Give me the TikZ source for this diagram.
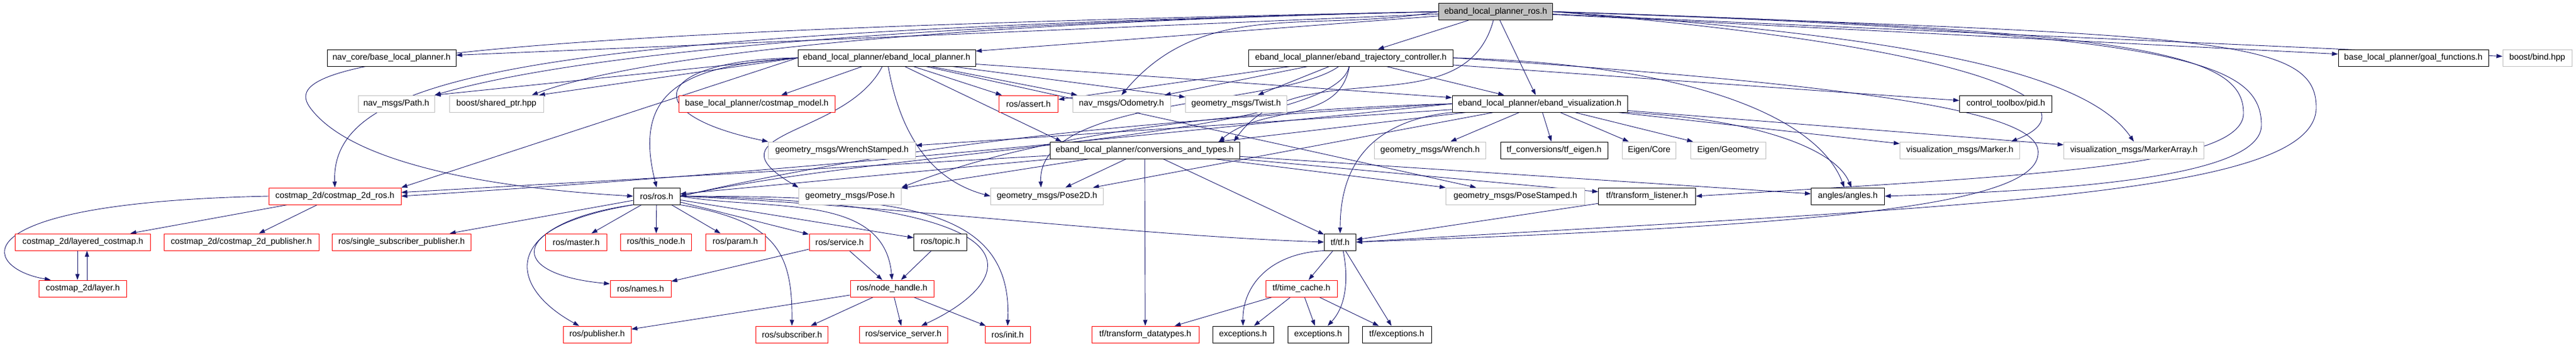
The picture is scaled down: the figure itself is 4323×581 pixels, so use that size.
\documentclass[tikz,border=0pt]{standalone}
\usepackage{fontspec}
\setmainfont{Liberation Sans}
\usetikzlibrary{arrows.meta,backgrounds}
\definecolor{edgeblue}{HTML}{191970}
\definecolor{boxgray}{HTML}{BFBFBF}
\newcommand{\hdrfont}{\fontsize{14.3}{17}\selectfont}

\begin{document}
\begin{tikzpicture}[x=1pt,y=1pt,
    hdr/.style={draw=black,fill=white,line width=1pt,minimum height=28,inner sep=0pt,font=\hdrfont},
    extbox/.style={hdr,draw=boxgray},
    missbox/.style={hdr,draw=red},
    rootbox/.style={hdr,fill=boxgray},
    inc/.style={draw=edgeblue,line width=0.9pt,-{Triangle[length=10pt,width=7pt]}}]
    \useasboundingbox (0,0) rectangle (4323,-581);

    \node[rootbox, minimum width=191] (root) at (2510,-19.5) {eband\_local\_planner\_ros.h};

    \node[hdr, minimum width=216] (navcore) at (657,-97) {nav\_core/base\_local\_planner.h};
    \node[hdr, minimum width=298] (ebandlp) at (1488,-97) {eband\_local\_planner/eband\_local\_planner.h};
    \node[hdr, minimum width=343] (traj) at (2267,-97) {eband\_local\_planner/eband\_trajectory\_controller.h};
    \node[hdr, minimum width=252] (goalf) at (4050,-97) {base\_local\_planner/goal\_functions.h};
    \node[extbox, minimum width=116] (bind) at (4258,-97) {boost/bind.hpp};

    \node[extbox, minimum width=128] (path) at (665,-174) {nav\_msgs/Path.h};
    \node[extbox, minimum width=158] (sharedptr) at (833,-174) {boost/shared\_ptr.hpp};
    \node[missbox, minimum width=262] (costmapmodel) at (1270,-174) {base\_local\_planner/costmap\_model.h};
    \node[missbox, minimum width=99] (assert) at (1726,-174) {ros/assert.h};
    \node[extbox, minimum width=164] (odom) at (1882,-174) {nav\_msgs/Odometry.h};
    \node[extbox, minimum width=170] (twist) at (2074.5,-174) {geometry\_msgs/Twist.h};
    \node[hdr, minimum width=294] (vis) at (2584,-174) {eband\_local\_planner/eband\_visualization.h};
    \node[hdr, minimum width=155] (pid) at (3366,-174) {control\_toolbox/pid.h};

    \node[extbox, minimum width=247] (wrenchst) at (1413,-252) {geometry\_msgs/WrenchStamped.h};
    \node[hdr, minimum width=318] (conv) at (1921,-252) {eband\_local\_planner/conversions\_and\_types.h};
    \node[extbox, minimum width=187] (wrench) at (2400,-252) {geometry\_msgs/Wrench.h};
    \node[hdr, minimum width=180] (tfeigen) at (2608,-252) {tf\_conversions/tf\_eigen.h};
    \node[extbox, minimum width=90] (eigcore) at (2767.5,-252) {Eigen/Core};
    \node[extbox, minimum width=126] (eiggeom) at (2900,-252) {Eigen/Geometry};
    \node[extbox, minimum width=201] (marker) at (3289,-252) {visualization\_msgs/Marker.h};
    \node[extbox, minimum width=235] (markerarr) at (3581,-252) {visualization\_msgs/MarkerArray.h};

    \node[missbox, minimum width=222] (cmros) at (562,-329) {costmap\_2d/costmap\_2d\_ros.h};
    \node[hdr, minimum width=78] (ros) at (1102,-329) {ros/ros.h};
    \node[extbox, minimum width=172] (pose) at (1426.5,-329) {geometry\_msgs/Pose.h};
    \node[extbox, minimum width=189] (pose2d) at (1757,-329) {geometry\_msgs/Pose2D.h};
    \node[extbox, minimum width=233] (posest) at (2543,-329) {geometry\_msgs/PoseStamped.h};
    \node[hdr, minimum width=163] (tflist) at (2764,-329) {tf/transform\_listener.h};
    \node[hdr, minimum width=123] (angles) at (3101,-329) {angles/angles.h};

    \node[missbox, minimum width=227] (layered) at (139,-406) {costmap\_2d/layered\_costmap.h};
    \node[missbox, minimum width=260] (cmpub) at (405,-406) {costmap\_2d/costmap\_2d\_publisher.h};
    \node[missbox, minimum width=233] (singlesub) at (674,-406) {ros/single\_subscriber\_publisher.h};
    \node[missbox, minimum width=103] (master) at (967,-406) {ros/master.h};
    \node[missbox, minimum width=119] (thisnode) at (1101,-406) {ros/this\_node.h};
    \node[missbox, minimum width=100] (param) at (1234,-406) {ros/param.h};
    \node[missbox, minimum width=102] (service) at (1409,-406) {ros/service.h};
    \node[hdr, minimum width=89] (topic) at (1578,-406) {ros/topic.h};
    \node[hdr, minimum width=53] (tf) at (2249,-406) {tf/tf.h};

    \node[missbox, minimum width=147] (layer) at (139,-484) {costmap\_2d/layer.h};
    \node[missbox, minimum width=102] (names) at (1075,-484) {ros/names.h};
    \node[missbox, minimum width=140] (nodehandle) at (1497,-484) {ros/node\_handle.h};
    \node[missbox, minimum width=120] (timecache) at (2184,-484) {tf/time\_cache.h};

    \node[missbox, minimum width=114] (publisher) at (1002,-561) {ros/publisher.h};
    \node[missbox, minimum width=121] (subscriber) at (1329,-561) {ros/subscriber.h};
    \node[missbox, minimum width=148] (srvserver) at (1516,-561) {ros/service\_server.h};
    \node[missbox, minimum width=76] (init) at (1691,-561) {ros/init.h};
    \node[missbox, minimum width=180] (tfdatatypes) at (1922,-561) {tf/transform\_datatypes.h};
    \node[hdr, minimum width=102] (exc1) at (2086,-561) {exceptions.h};
    \node[hdr, minimum width=102] (exc2) at (2212,-561) {exceptions.h};
    \node[hdr, minimum width=116] (tfexc) at (2344,-561) {tf/exceptions.h};

    \begin{scope}[on background layer]
    % includes of the root header
    \draw[inc] (root) to (navcore);
    \draw[inc] (root) to (ebandlp);
    \draw[inc] (root) to (traj);
    \draw[inc] (root) to (vis);
    \draw[inc] (root) to (goalf);
    \draw[inc] (root) to (bind);
    \draw[inc] (root) to[out=-105,in=55] ([xshift=-10]conv.north east);
    \draw[inc] (root.west) to[out=190,in=50] (odom.north);
    \draw[inc] (root.west) .. controls (1300,-45) and (900,-110) .. (path.north east);
    \draw[inc] (root.west) .. controls (1500,-40) and (1050,-100) .. ([xshift=-20]sharedptr.north east);
    \draw[inc] (root.west) .. controls (900,-55) and (555,-120) .. (cmros.north);
    \draw[inc] (root.west) .. controls (650,-55) and (470,-110) .. (520,-180) .. controls (600,-290) and (900,-320) .. (ros.west);
    \draw[inc] (root.east) .. controls (3200,-60) and (3500,-120) .. (markerarr.north);
    \draw[inc] (root.east) .. controls (3350,-80) and (3520,-180) .. ([xshift=-15]marker.north east);
    \draw[inc] (root.east) .. controls (3600,-50) and (3765,-90) .. (3765,-190) .. controls (3765,-280) and (3400,-295) .. (tflist.east);
    \draw[inc] (root.east) .. controls (3650,-55) and (3795,-100) .. (3795,-210) .. controls (3795,-300) and (3450,-320) .. (angles.east);
    \draw[inc] (root.east) .. controls (3700,-60) and (3887,-60) .. (3887,-180) .. controls (3887,-330) and (3300,-345) .. (tf.east);

    % eband_local_planner.h
    \draw[inc] (ebandlp) to (costmapmodel);
    \draw[inc] (ebandlp) to (assert);
    \draw[inc] (ebandlp) to (odom);
    \draw[inc] (ebandlp) to (twist);
    \draw[inc] (ebandlp) to (vis);
    \draw[inc] (ebandlp) to ([xshift=20]conv.north west);
    \draw[inc] (ebandlp.west) to (path.north east);
    \draw[inc] (ebandlp.west) to ([xshift=-8]sharedptr.north east);
    \draw[inc] (ebandlp.west) to (cmros.north east);
    \draw[inc] (ebandlp.west) .. controls (1150,-110) and (1060,-150) .. (ros.north);
    \draw[inc] (ebandlp.west) .. controls (1100,-100) and (1060,-190) .. (wrenchst.north west);
    \draw[inc] (ebandlp) .. controls (1420,-230) and (1180,-220) .. (pose.north west);
    \draw[inc] (ebandlp) to[out=-80,in=165] (pose2d.west);
    \draw[inc] (ebandlp) to (posest);

    % eband_trajectory_controller.h
    \draw[inc] (traj) to (twist);
    \draw[inc] (traj) to (vis);
    \draw[inc] (traj) to (assert);
    \draw[inc] (traj) to (odom);
    \draw[inc] (traj) to (pid);
    \draw[inc] (traj) to[out=-100,in=40] ([xshift=-35]conv.north east);
    \draw[inc] (traj) .. controls (2240,-230) and (1500,-250) .. (ros.east);
    \draw[inc] (traj) .. controls (2150,-180) and (1740,-160) .. ([xshift=-10]pose2d.north);
    \draw[inc] (traj.east) .. controls (2900,-110) and (3060,-220) .. ([xshift=-6]angles.north);
    \draw[inc] (traj.east) .. controls (3250,-150) and (3430,-200) .. (3420,-260) .. controls (3410,-350) and (3000,-380) .. (tf.east);

    % eband_visualization.h
    \draw[inc] (vis) to (wrench);
    \draw[inc] (vis) to (tfeigen);
    \draw[inc] (vis) to (eigcore);
    \draw[inc] (vis) to (eiggeom);
    \draw[inc] (vis) to (marker);
    \draw[inc] (vis) to (markerarr);
    \draw[inc] (vis) to (conv);
    \draw[inc] (vis) to (wrenchst);
    \draw[inc] (vis) to (pose2d);
    \draw[inc] (vis.west) .. controls (2000,-200) and (1600,-225) .. (ros.east);
    \draw[inc] (vis.west) .. controls (1900,-190) and (1650,-260) .. (pose.north east);
    \draw[inc] (vis.west) .. controls (1900,-230) and (1300,-290) .. (cmros.east);
    \draw[inc] (vis.south west) .. controls (2280,-205) and (2249,-300) .. (tf.north);
    \draw[inc] (vis.south east) .. controls (2950,-200) and (3080,-250) .. ([xshift=6]angles.north);

    % conversions_and_types.h
    \draw[inc] (conv) to (ros);
    \draw[inc] (conv) to (pose);
    \draw[inc] (conv) to (pose2d);
    \draw[inc] (conv) to (posest);
    \draw[inc] (conv) to (tflist);
    \draw[inc] (conv) to (angles);
    \draw[inc] (conv) to (tf);
    \draw[inc] (conv) to (tfdatatypes);
    \draw[inc] (conv) to (cmros);

    % ros/ros.h
    \draw[inc] (ros) to (singlesub);
    \draw[inc] (ros) to (master);
    \draw[inc] (ros) to (thisnode);
    \draw[inc] (ros) to (param);
    \draw[inc] (ros) to (service);
    \draw[inc] (ros) to (topic);
    \draw[inc] (ros.south west) .. controls (850,-380) and (850,-460) .. ([yshift=8]names.west);
    \draw[inc] (ros.south west) .. controls (840,-375) and (850,-480) .. ([xshift=-30]publisher.north);
    \draw[inc] (ros.south east) .. controls (1300,-370) and (1330,-420) .. (subscriber.north);
    \draw[inc] (ros.east) to[out=-10,in=95] (nodehandle.north);
    \draw[inc] (ros.east) .. controls (1800,-340) and (1690,-480) .. ([xshift=30]srvserver.north);
    \draw[inc] (ros.east) .. controls (1500,-330) and (1700,-340) .. (init.north);
    \draw[inc] (ros.east) .. controls (1500,-345) and (1900,-395) .. (tf.west);

    \draw[inc] (service) to (names);
    \draw[inc] (service) to (nodehandle);
    \draw[inc] (topic) to (nodehandle);
    \draw[inc] (nodehandle) to (publisher);
    \draw[inc] (nodehandle) to (subscriber);
    \draw[inc] (nodehandle) to (srvserver);
    \draw[inc] (nodehandle) to (init);

    % costmap_2d
    \draw[inc] (cmros) to (layered);
    \draw[inc] (cmros) to (cmpub);
    \draw[inc] (cmros.west) .. controls (-80,-340) and (-30,-450) .. ([xshift=20]layer.north west);
    \draw[inc] ([xshift=-9]layered.south) to ([xshift=-9]layer.north);
    \draw[inc] ([xshift=7]layer.north) to ([xshift=7]layered.south);

    % tf
    \draw[inc] (tflist) to (tf);
    \draw[inc] (tf) to (timecache);
    \draw[inc] (tf.south west) .. controls (2130,-425) and (2085,-480) .. (exc1.north);
    \draw[inc] ([xshift=5]tf.south) .. controls (2262,-460) and (2262,-510) .. ([xshift=16]exc2.north);
    \draw[inc] (tf) to (tfexc);
    \draw[inc] (timecache) to (tfdatatypes);
    \draw[inc] (timecache) to (exc1);
    \draw[inc] (timecache) to (exc2);
    \draw[inc] (timecache) to (tfexc);
    \end{scope}
\end{tikzpicture}
\end{document}
